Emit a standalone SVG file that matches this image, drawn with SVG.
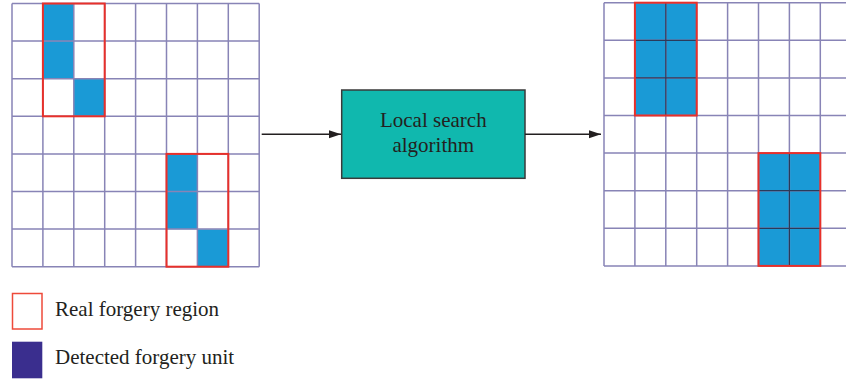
<svg xmlns="http://www.w3.org/2000/svg" width="846" height="381" viewBox="0 0 846 381">
<style>
.bg{fill:#ffffff}
.cell{fill:#1a9ad6}
.grid{fill:none;stroke:#8884b6;stroke-width:1.5}
.inner{fill:none;stroke:#2a3a5a;stroke-width:1.2}
.red{fill:none;stroke:#e8302a;stroke-width:2}
.txt{font-family:"Liberation Serif","Times New Roman",serif;font-size:21px;fill:#231f20}
.conn{fill:none;stroke:#231f20;stroke-width:1.6}
</style>
<defs>
<marker id="arr" viewBox="0 0 12 10" refX="12" refY="5" markerWidth="12" markerHeight="10" markerUnits="userSpaceOnUse" orient="auto">
<path d="M0,1 L12,5 L0,9 z" fill="#231f20"/>
</marker>
</defs>
<rect width="846" height="381" fill="#ffffff"/>

<g id="input-grid">
<rect class="bg" x="12" y="3.5" width="247.2" height="263.2"/>
<rect class="cell" x="42.9" y="3.5" width="30.9" height="37.6"/>
<rect class="cell" x="42.9" y="41.1" width="30.9" height="37.6"/>
<rect class="cell" x="73.8" y="78.7" width="30.9" height="37.6"/>
<rect class="cell" x="166.5" y="154.1" width="30.9" height="37.6"/>
<rect class="cell" x="166.5" y="191.7" width="30.9" height="37.6"/>
<rect class="cell" x="197.4" y="229.3" width="30.9" height="37.6"/>
<path class="grid" d="M12,3.5V266.7M42.9,3.5V266.7M73.8,3.5V266.7M104.7,3.5V266.7M135.6,3.5V266.7M166.5,3.5V266.7M197.4,3.5V266.7M228.3,3.5V266.7M259.2,3.5V266.7M12,3.5H259.2M12,41.1H259.2M12,78.7H259.2M12,116.3H259.2M12,153.9H259.2M12,191.5H259.2M12,229.1H259.2M12,266.7H259.2"/>
<rect class="red" x="42.9" y="3.5" width="61.8" height="112.8"/>
<rect class="red" x="166.5" y="153.9" width="61.8" height="112.8"/>
</g>

<g id="output-grid">
<rect class="bg" x="604" y="2.7" width="242" height="263.2"/>
<rect class="cell" x="634.9" y="2.7" width="61.8" height="112.8"/>
<rect class="cell" x="758.5" y="153.1" width="61.8" height="112.8"/>
<path class="grid" d="M604,2.7V265.9M634.9,2.7V265.9M665.8,2.7V265.9M696.7,2.7V265.9M727.6,2.7V265.9M758.5,2.7V265.9M789.4,2.7V265.9M820.3,2.7V265.9M604,2.7H846M604,40.3H846M604,77.9H846M604,115.5H846M604,153.1H846M604,190.7H846M604,228.3H846M604,265.9H846"/>
<path class="inner" d="M665.8,2.7V115.5M634.9,40.3H696.7M634.9,77.9H696.7M789.4,153.1V265.9M758.5,190.7H820.3M758.5,228.3H820.3"/>
<rect class="red" x="634.9" y="2.7" width="61.8" height="112.8"/>
<rect class="red" x="758.5" y="153.1" width="61.8" height="112.8"/>
</g>

<g id="local-search">
<rect x="341.7" y="90" width="183.3" height="88.3" fill="#10b8ae" stroke="#3a3a3a" stroke-width="1.5"/>
<text class="txt" x="433.3" y="127" text-anchor="middle">Local search</text>
<text class="txt" x="433.3" y="152" text-anchor="middle">algorithm</text>
</g>

<g id="connectors">
<line class="conn" x1="261.7" y1="134.3" x2="341" y2="134.3" marker-end="url(#arr)"/>
<line class="conn" x1="525" y1="134.3" x2="601" y2="134.3" marker-end="url(#arr)"/>
</g>

<g id="legend">
<rect x="12.5" y="293.5" width="29.5" height="35.5" fill="#ffffff" stroke="#ee4a3a" stroke-width="1.5"/>
<text class="txt" x="55" y="316">Real forgery region</text>
<rect x="12" y="341.7" width="30.3" height="36.6" fill="#3a2e8e"/>
<text class="txt" x="55" y="364">Detected forgery unit</text>
</g>
</svg>
